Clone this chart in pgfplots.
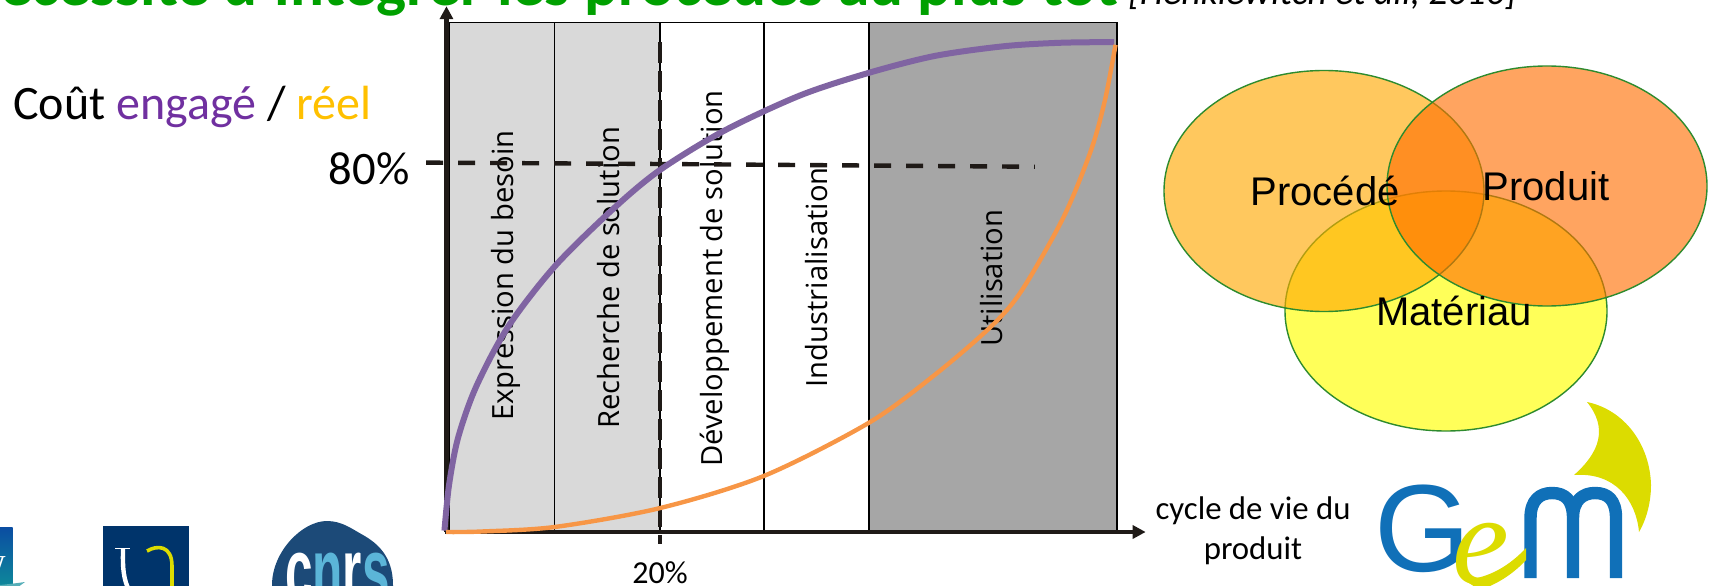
\documentclass[border=0pt]{standalone}
\usepackage{fontspec}
\usepackage{pgfplots}
\pgfplotsset{compat=1.18}
\usetikzlibrary{arrows.meta}
\setmainfont{Carlito}
\newfontfamily\opensans{Open Sans}
\newfontfamily\arial{Liberation Sans}
\newfontfamily\timesface{Liberation Serif}

\definecolor{axisdark}{HTML}{1F1A17}
\definecolor{engage}{HTML}{8064A2}
\definecolor{reel}{HTML}{F79646}
\definecolor{phaselight}{HTML}{D9D9D9}
\definecolor{phasedark}{HTML}{A6A6A6}
\definecolor{titlegreen}{HTML}{00A000}
\definecolor{wordpurple}{HTML}{7030A0}
\definecolor{wordyellow}{HTML}{FFC000}
\definecolor{venngreen}{HTML}{2E8B2E}
\definecolor{vennmat}{HTML}{FFFF00}
\definecolor{vennproc}{HTML}{FFA800}
\definecolor{vennprod}{HTML}{FF6D00}
\definecolor{gemblue}{HTML}{1070B8}
\definecolor{gemyellow}{HTML}{DCDC00}
\definecolor{navyu}{HTML}{00346B}
\definecolor{cnrsblue}{HTML}{1C4A78}
\definecolor{cnrslight}{HTML}{5BB5D8}
\definecolor{leftblue}{HTML}{0B4DA2}
\definecolor{leftteal}{HTML}{0E8C9A}

% Cumulative cost over the product life cycle (percent of life cycle, percent of cost)
\pgfplotstableread{
x y
-0.24 0.3
0.19 10.2
1.03 20.4
2.72 31.5
5.73 44.6
10.14 57.8
15.68 70.4
20 78.7
26.0 87.2
33.15 94.9
39.58 99.8
45.82 103.5
52.3 105.6
57.56 106.35
62.63 106.5
}\coutengage
\pgfplotstableread{
x y
-0.09 0
3.15 0.1
10.14 1.1
20 5.2
29.77 12.2
39.58 23.7
45.82 34.2
51.14 44.8
53.99 52.6
57.9 68.5
60.47 83
61.78 93.9
62.77 105.9
}\coutreel

\newcommand{\phaselabel}[3]{\node[rotate=90,anchor=base west,inner sep=0pt,text=black,
  font=\opensans\fontsize{14.6pt}{17pt}\selectfont] at (axis cs:#1,#2) {#3};}

\begin{document}
\begin{tikzpicture}
\path[use as bounding box] (0,0) rectangle (859pt,292.5pt);
\clip (0,0) rectangle (859pt,292.5pt);

\begin{axis}[
  at={(0,0)},anchor=south west,
  scale only axis,width=859pt,height=292.5pt,
  xmin=-41.97,xmax=119.34,ymin=-11.52,ymax=115.65,
  axis lines=none,clip=false]

% life-cycle phases
\addplot[draw=none,fill=phaselight,forget plot] coordinates {(0.23,0) (0.23,110.8) (20,110.8) (20,0)} --cycle;
\addplot[draw=none,fill=phasedark,forget plot] coordinates {(39.62,0) (39.62,110.8) (62.9,110.8) (62.9,0)} --cycle;

\phaselabel{6.28}{24.1}{Expression du besoin}
\phaselabel{16.19}{22.4}{Recherche de solution}
\phaselabel{25.9}{14.1}{Développement de solution}
\phaselabel{35.72}{31.4}{Industrialisation}
\phaselabel{52.2}{40.2}{Utilisation}

% phase borders
\addplot[black,line width=0.75pt,forget plot] coordinates {(0.23,0) (0.23,110.8) (62.9,110.8) (62.9,0)};
\addplot[black,line width=0.6pt,forget plot] coordinates {(10.09,0) (10.09,110.8)};
\addplot[black,line width=0.6pt,forget plot] coordinates {(20,0) (20,110.8)};
\addplot[black,line width=0.6pt,forget plot] coordinates {(29.77,0) (29.77,110.8)};
\addplot[black,line width=0.6pt,forget plot] coordinates {(39.62,0) (39.62,110.8)};

% axes with arrow heads
\addplot[axisdark,line width=2.3pt,-{Stealth[length=6.5pt,width=6.5pt,inset=0pt]},forget plot] coordinates {(-0.05,0) (-0.05,114.3)};
\addplot[axisdark,line width=2.3pt,-{Stealth[length=6.5pt,width=6.5pt,inset=0pt]},forget plot] coordinates {(-0.2,0) (65.6,0)};

% reference lines at 20 % of the life cycle and 80 % of the cost
\addplot[axisdark,line width=1.8pt,dash pattern=on 10.5pt off 4pt,forget plot] coordinates {(20,106.5) (20,-2.6)};
\addplot[axisdark,line width=2.2pt,dash pattern=on 8.5pt off 7.5pt,forget plot] coordinates {(-1.97,80.3) (20,80) (55.2,79.4)};

% cost curves
\addplot[engage,line width=3pt,smooth] table[x=x,y=y] {\coutengage};
\addplot[reel,line width=2.2pt,smooth] table[x=x,y=y] {\coutreel};

\node[anchor=base east,inner sep=0pt,font=\fontsize{23.3pt}{28pt}\selectfont] at (axis cs:-3.5,75.6) {80\%};
\node[anchor=base,inner sep=0pt,font=\fontsize{16pt}{19pt}\selectfont] at (axis cs:20,-11.2) {20\%};
\end{axis}

\begin{scope}[x=0.5pt,y=-0.5pt,yshift=292.5pt]
% heading, cut by the top edge of the sheet
\node[anchor=base east,inner sep=0pt,text=titlegreen,font=\bfseries\fontsize{31.7pt}{36pt}\selectfont] at (1119,6) {Nécessité d'intégrer les procédés au plus tôt};
\node[anchor=base west,inner sep=0pt,font=\itshape\fontsize{18.8pt}{22pt}\selectfont] at (1128,5) {[Henklewitch et all, 2010]};

\node[anchor=base west,inner sep=0pt,font=\fontsize{24pt}{28pt}\selectfont] at (13,119) {Coût \textcolor{wordpurple}{engagé} / \textcolor{wordyellow}{réel}};

\node[align=center,inner sep=0pt,anchor=base,font=\fontsize{16.4pt}{20pt}\selectfont] at (1253,559) {cycle de vie du\\produit};

% three overlapping domains
\draw[venngreen,line width=0.7pt,fill=vennmat,fill opacity=0.65] (1446,311) ellipse [x radius=161,y radius=120];
\draw[venngreen,line width=0.7pt,fill=vennproc,fill opacity=0.63] (1324,191) ellipse [x radius=160,y radius=120.5];
\draw[venngreen,line width=0.7pt,fill=vennprod,fill opacity=0.625] (1547,186) ellipse [x radius=160,y radius=120];
\begin{scope}[font=\arial\fontsize{20pt}{24pt}\selectfont,every node/.style={anchor=base,inner sep=0pt}]
\node at (1325,205) {Procédé};
\node at (1546,200) {Produit};
\node at (1454,325) {Matériau};
\end{scope}

% GeM mark
\fill[gemyellow] (1587,402) .. controls (1625,410) and (1650,445) .. (1651,485)
  .. controls (1651,505) and (1645,522) .. (1639,532)
  .. controls (1636,500) and (1615,472) .. (1574,475)
  .. controls (1600,452) and (1608,428) .. (1587,402) -- cycle;
\node[anchor=base west,inner sep=0pt,text=gemblue,font=\arial\fontsize{62pt}{70pt}\selectfont] at (1374,571) {G};
\draw[gemblue,line width=6.2pt,line join=round] (1530.5,578) -- (1530.5,518)
  .. controls (1530.5,500) and (1540,493) .. (1552,493)
  .. controls (1565,493) and (1573,500) .. (1573,518) -- (1573,578)
  (1573,518) .. controls (1573,500) and (1583,493) .. (1595,493)
  .. controls (1608,493) and (1616,500) .. (1616,518) -- (1616,578);
\node[anchor=base west,inner sep=0pt,text=gemyellow,font=\timesface\itshape\fontsize{64pt}{70pt}\selectfont] at (1452,583) {e};
\fill[gemyellow] (1464,580) .. controls (1490,578) and (1510,565) .. (1526,548)
  -- (1526,560) .. controls (1515,572) and (1500,583) .. (1480,590) -- cycle;

% laboratory and university marks
\shade[top color=leftblue,bottom color=leftteal] (-2,527) rectangle (12.7,590);
\node[anchor=base east,inner sep=0pt,text=white,font=\timesface\fontsize{16pt}{18pt}\selectfont] at (6,577) {W};
\fill[leftteal!70!white] (0,585) .. controls (10,584) and (18,583) .. (25,582) -- (14,590) -- (0,590) -- cycle;

\fill[navyu] (103,526) rectangle (189,590);
\draw[white,line width=2.2pt] (123,549) .. controls (123,560) and (122,575) .. (128,588);
\draw[white,line width=0.7pt] (115,548.5) -- (130,548.5);
\draw[gemyellow,line width=1.8pt] (147,551) .. controls (157,545) and (172,545) .. (172,566) -- (172,590);

\fill[cnrsblue] (327,521) .. controls (342,521) and (352,529) .. (363,535)
  .. controls (377,543) and (393,556) .. (393,585) -- (393,600) -- (272,600) -- (272,585)
  .. controls (272,552) and (302,521) .. (327,521) -- cycle;
\node[anchor=base west,inner sep=0pt,xscale=0.55,font=\arial\bfseries\fontsize{45pt}{50pt}\selectfont] at (285,601)
  {\textcolor{white}{c}\textcolor{cnrslight}{n}\textcolor{white}{r}\textcolor{cnrslight}{s}};
\end{scope}
\end{tikzpicture}
\end{document}
